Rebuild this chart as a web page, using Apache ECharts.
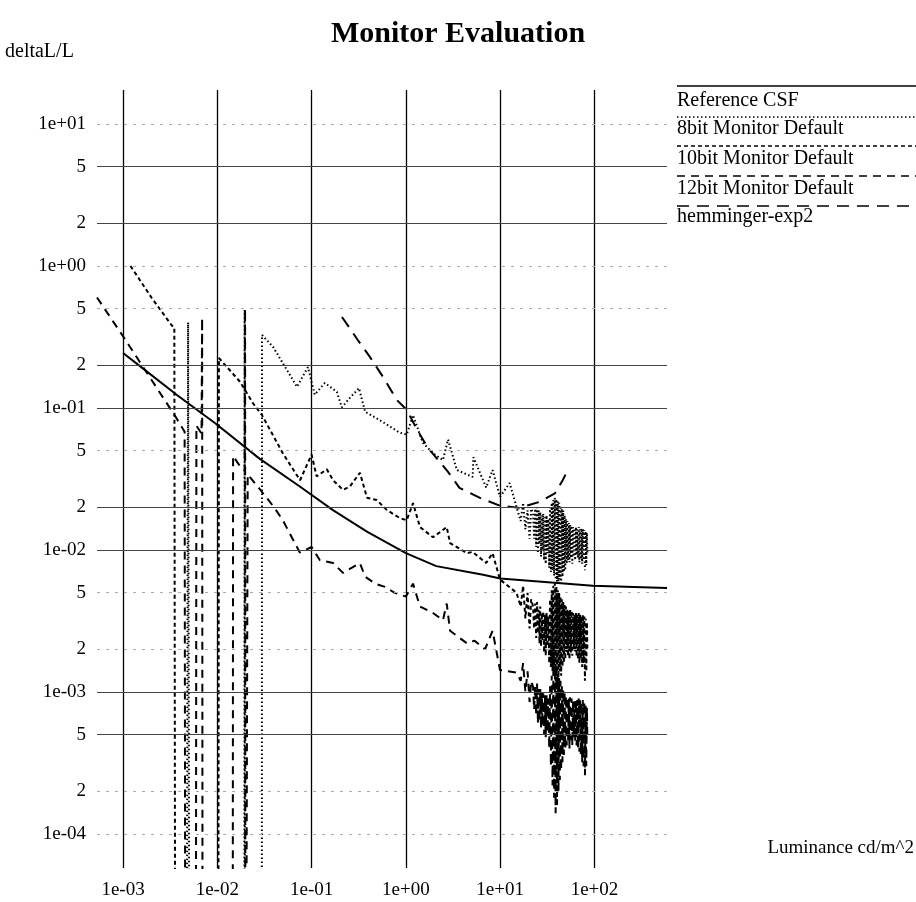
<!DOCTYPE html>
<html>
<head>
<meta charset="utf-8">
<script src="https://cdn.jsdelivr.net/npm/echarts@6/dist/echarts.min.js"></script>
<style>
  html, body { margin: 0; padding: 0; background: #fff; }
  #chart { width: 916px; height: 902px; }
</style>
</head>
<body>
<div id="chart"></div>
<script>
// axis ticks
const xTickVals = [1e-3, 1e-2, 1e-1, 1, 10, 100];
const xTickLabels = ['1e-03', '1e-02', '1e-01', '1e+00', '1e+01', '1e+02'];
const yTickVals = [1e-4, 2e-4, 5e-4, 1e-3, 2e-3, 5e-3, 1e-2, 2e-2, 5e-2, 1e-1, 2e-1, 5e-1, 1, 2, 5, 10];
const yTickLabels = ['1e-04', '2', '5', '1e-03', '2', '5', '1e-02', '2', '5', '1e-01', '2', '5', '1e+00', '2', '5', '1e+01'];

const seriesNames = ['Reference CSF', '8bit Monitor Default', '10bit Monitor Default', '12bit Monitor Default', 'hemminger-exp2'];

// [luminance, deltaL/L]; 1e-7 = zero step (falls off the bottom)
const refCsf = [[0.001, 0.244], [0.0015, 0.198], [0.0037, 0.124], [0.0095, 0.078], [0.028, 0.044], [0.075, 0.028],
  [0.17, 0.019], [0.39, 0.0134], [1.0, 0.0095], [2.1, 0.0077], [6.6, 0.0067], [10, 0.0063], [96, 0.0056], [588, 0.0054]];

const bit8 = [[0.0047, 1e-7], [0.0049, 0.40], [0.0051, 1e-7], [0.0193, 1e-7], [0.0195, 0.49], [0.0197, 1e-7],
  [0.0296, 1e-7], [0.0298, 0.327], [0.039, 0.269], [0.0495, 0.207], [0.070, 0.141], [0.0914, 0.194], [0.108, 0.124],
  [0.138, 0.150], [0.185, 0.130], [0.209, 0.101], [0.255, 0.118], [0.318, 0.138], [0.369, 0.094], [0.53, 0.082],
  [0.86, 0.067], [1.02, 0.065], [1.19, 0.089], [1.51, 0.057], [1.94, 0.048], [2.47, 0.043], [2.8, 0.060], [3.47, 0.0366],
  [5.1, 0.0327], [5.2, 0.045], [7.1, 0.0275], [8.3, 0.0366], [9.95, 0.0237], [12.6, 0.0296], [14.9, 0.0201],
  [16.5, 0.0160], [17.5, 0.0215], [18.5, 0.0140], [19.5, 0.0190], [20.5, 0.0120], [21.3, 0.0195]];
const bit8Tail = [[22.3, 0.0182], [22.9, 0.0120], [23.5, 0.0195], [24.1, 0.0105], [24.6, 0.0200], [25.1, 0.0095],
  [25.6, 0.0190], [26.1, 0.0110], [26.6, 0.0185], [27.1, 0.0090], [27.6, 0.0175], [28.1, 0.0100], [28.6, 0.0180],
  [29.2, 0.0085], [29.8, 0.0170], [30.4, 0.0080], [31, 0.0175], [31.7, 0.0095], [32.4, 0.0165], [33.1, 0.0075],
  [33.8, 0.0200], [34.5, 0.0070], [35.2, 0.0215], [35.9, 0.0072], [36.6, 0.0225], [37.3, 0.0066], [38, 0.0232],
  [38.7, 0.0062], [39.4, 0.0228], [40.1, 0.0060], [40.8, 0.0220], [41.5, 0.0058], [42.2, 0.0215], [42.9, 0.0062],
  [43.6, 0.0205], [44.3, 0.0060], [45, 0.0195], [45.8, 0.0065], [46.6, 0.0190], [47.4, 0.0070], [48.2, 0.0175],
  [49, 0.0072], [49.8, 0.0165], [50.7, 0.0080], [51.6, 0.0160], [52.5, 0.0085], [53.4, 0.0155], [54.3, 0.0082],
  [55.2, 0.0150], [56.2, 0.0088], [57.2, 0.0148], [58.2, 0.0080], [59.2, 0.0145], [60.2, 0.0090], [61.3, 0.0142],
  [62.4, 0.0085], [63.5, 0.0145], [64.6, 0.0092], [65.7, 0.0140], [66.8, 0.0088], [68, 0.0145], [69.2, 0.0082],
  [70.4, 0.0140], [71.6, 0.0086], [72.8, 0.0142], [74, 0.0080], [75.3, 0.0140], [76.6, 0.0085], [77.9, 0.0138],
  [79.2, 0.0072], [80.5, 0.0135], [81.8, 0.0078], [83.1, 0.0132], [84, 0.0095]];

const bit10 = [[0.0012, 1.0], [0.0020, 0.60], [0.0033, 0.38], [0.0035, 0.37], [0.0036, 1e-7], [0.0102, 1e-7],
  [0.0104, 0.225], [0.0174, 0.153], [0.0239, 0.108], [0.0298, 0.089], [0.0495, 0.048], [0.0754, 0.031], [0.1, 0.047],
  [0.113, 0.033], [0.145, 0.037], [0.169, 0.031], [0.215, 0.0265], [0.255, 0.028], [0.325, 0.035], [0.387, 0.0233],
  [0.49, 0.0225], [0.63, 0.0191], [0.86, 0.0168], [1.02, 0.0162], [1.19, 0.0214], [1.41, 0.0145], [1.94, 0.0123],
  [2.71, 0.0145], [2.94, 0.0112], [4.44, 0.0095], [5.1, 0.0097], [7.1, 0.0081], [8.3, 0.0095], [9.95, 0.0062],
  [14.9, 0.0050], [16.5, 0.0040], [17.5, 0.0056], [18.5, 0.0033], [19.5, 0.0050], [20.5, 0.0028], [21.3, 0.0045]];
const bit10Tail = [[22.3, 0.0040], [22.9, 0.0028], [23.5, 0.0042], [24.1, 0.0024], [24.6, 0.0043], [25.1, 0.0026],
  [25.6, 0.0038], [26.1, 0.0022], [26.6, 0.0040], [27.1, 0.0021], [27.6, 0.0036], [28.1, 0.0023], [28.6, 0.0037],
  [29.2, 0.0019], [29.8, 0.0035], [30.4, 0.0018], [31, 0.0036], [31.7, 0.0021], [32.4, 0.0034], [33.1, 0.0016],
  [33.8, 0.0045], [34.5, 0.0015], [35.2, 0.0052], [35.9, 0.0014], [36.6, 0.0056], [37.3, 0.0013], [38, 0.0058],
  [38.7, 0.0012], [39.4, 0.0055], [40.1, 0.0013], [40.8, 0.0052], [41.5, 0.0012], [42.2, 0.0050], [42.9, 0.0014],
  [43.6, 0.0047], [44.3, 0.0013], [45, 0.0045], [45.8, 0.0015], [46.6, 0.0043], [47.4, 0.0016], [48.2, 0.0041],
  [49, 0.0017], [49.8, 0.0040], [50.7, 0.0019], [51.6, 0.0038], [52.5, 0.0018], [53.4, 0.0037], [54.3, 0.0017],
  [55.2, 0.0038], [56.2, 0.0019], [57.2, 0.0037], [58.2, 0.0018], [59.2, 0.0036], [60.2, 0.0020], [61.3, 0.0035],
  [62.4, 0.0019], [63.5, 0.0036], [64.6, 0.0018], [65.7, 0.0035], [66.8, 0.0017], [68, 0.0036], [69.2, 0.0016],
  [70.4, 0.0035], [71.6, 0.0017], [72.8, 0.0034], [74, 0.0015], [75.3, 0.0035], [76.6, 0.0016], [77.9, 0.0034],
  [79.2, 0.0012], [80.5, 0.0033], [81.8, 0.0014], [83.1, 0.0031], [84, 0.0020]];

const bit12 = [[0.00053, 0.60], [0.001, 0.32], [0.0036, 0.087], [0.0045, 0.068], [0.0046, 1e-7], [0.0059, 1e-7],
  [0.0060, 0.075], [0.0068, 0.066], [0.0069, 0.43], [0.0070, 1e-7], [0.0145, 1e-7], [0.0147, 0.046], [0.0169, 0.040],
  [0.0195, 0.036], [0.0197, 0.50], [0.0199, 1e-7], [0.0205, 1e-7], [0.021, 0.034], [0.028, 0.027], [0.040, 0.020],
  [0.0495, 0.0162], [0.075, 0.0096], [0.1, 0.0105], [0.122, 0.0085], [0.169, 0.0081], [0.215, 0.0069], [0.325, 0.0081],
  [0.369, 0.0065], [0.47, 0.0058], [0.60, 0.0055], [0.76, 0.0050], [1.0, 0.0047], [1.19, 0.0058], [1.41, 0.0040],
  [1.94, 0.0036], [2.47, 0.0032], [2.71, 0.0042], [2.94, 0.0027], [4.44, 0.0022], [5.35, 0.0023], [6.9, 0.0020],
  [8.3, 0.0027], [9.95, 0.00143], [14.9, 0.00137], [16.5, 0.0012], [17.5, 0.0016], [18.5, 0.0010], [19.5, 0.0014],
  [20.5, 0.00085], [21.3, 0.0012]];
const bit12Tail = [[22.3, 0.00109], [22.9, 0.00075], [23.5, 0.00110], [24.1, 0.00068], [24.6, 0.00115], [25.1, 0.00060],
  [25.6, 0.00105], [26.1, 0.00062], [26.6, 0.00105], [27.1, 0.00055], [27.6, 0.00100], [28.1, 0.00058], [28.6, 0.00098],
  [29.2, 0.00050], [29.8, 0.00095], [30.4, 0.00048], [31, 0.00095], [31.7, 0.00052], [32.4, 0.00090], [33.1, 0.00040],
  [33.8, 0.00110], [34.5, 0.00030], [35.2, 0.00130], [35.9, 0.00022], [36.6, 0.00140], [37.3, 0.00018], [38, 0.00150],
  [38.7, 0.00014], [39.4, 0.00145], [40.1, 0.00016], [40.8, 0.00135], [41.5, 0.00020], [42.2, 0.00125], [42.9, 0.00024],
  [43.6, 0.00120], [44.3, 0.00028], [45, 0.00112], [45.8, 0.00032], [46.6, 0.00105], [47.4, 0.00036], [48.2, 0.00100],
  [49, 0.00040], [49.8, 0.00095], [50.7, 0.00042], [51.6, 0.00092], [52.5, 0.00045], [53.4, 0.00090], [54.3, 0.00040],
  [55.2, 0.00092], [56.2, 0.00046], [57.2, 0.00090], [58.2, 0.00042], [59.2, 0.00088], [60.2, 0.00048], [61.3, 0.00086],
  [62.4, 0.00045], [63.5, 0.00088], [64.6, 0.00042], [65.7, 0.00088], [66.8, 0.00040], [68, 0.00090], [69.2, 0.00038],
  [70.4, 0.00088], [71.6, 0.00036], [72.8, 0.00085], [74, 0.00032], [75.3, 0.00088], [76.6, 0.00030], [77.9, 0.00086],
  [79.2, 0.00026], [80.5, 0.00080], [81.8, 0.00030], [83.1, 0.00078], [84, 0.00048]];

const hemminger = [[0.21, 0.437], [0.31, 0.30], [0.415, 0.229], [0.57, 0.166], [0.80, 0.114], [1.02, 0.097],
  [1.32, 0.070], [1.69, 0.053], [2.8, 0.0355], [3.7, 0.0274], [6.1, 0.0233], [9.95, 0.0205], [16, 0.0198],
  [26, 0.0218], [38, 0.025], [46, 0.031], [52, 0.0365]];

// styles
const FONT = '"Liberation Serif", "DejaVu Serif", serif';
const dashes = ['solid', [1.5, 2.5], [4, 3], [8, 6], [12, 8]];
const yGridDark = [false, false, true, true, false, false, true, true, false, true, true, false, false, true, true, false];

const lg = v => Math.log10(v);
const toLog = arr => arr.map(p => [lg(p[0]), lg(p[1])]);
const xLogs = xTickVals.map(lg);
const yLogs = yTickVals.map(lg);
const pick = (logs, labels) => v => {
  const i = logs.findIndex(t => Math.abs(t - v) < 1e-6);
  return i >= 0 ? labels[i] : '';
};

const seriesData = [refCsf, bit8.concat(bit8Tail), bit10.concat(bit10Tail), bit12.concat(bit12Tail), hemminger];

const gridLines = xLogs.map(v => ({ xAxis: v, lineStyle: { color: '#000', width: 1.3, type: 'solid' } }))
  .concat(yLogs.map((v, i) => ({
    yAxis: v,
    lineStyle: yGridDark[i] ? { color: '#444', width: 1, type: 'solid' } : { color: '#aaa', width: 1, type: [3, 6] }
  })));

const legendLineY = [86, 117, 146, 176, 206];
const legendTextY = [101, 129, 159, 189, 217];

const graphic = [
  { type: 'text', x: 5, y: 52, style: { text: 'deltaL/L', font: '20px ' + FONT, fill: '#000', verticalAlign: 'middle' } },
  { type: 'text', x: 914, y: 848, style: { text: 'Luminance cd/m^2', font: '19px ' + FONT, fill: '#000', align: 'right', verticalAlign: 'middle' } }
];
seriesNames.forEach((name, i) => {
  graphic.push({ type: 'line', shape: { x1: 677, y1: legendLineY[i], x2: 916, y2: legendLineY[i] },
    style: { stroke: '#000', lineWidth: 1.5, lineDash: dashes[i] === 'solid' ? null : dashes[i] } });
  graphic.push({ type: 'text', x: 677, y: legendTextY[i],
    style: { text: name, font: '20px ' + FONT, fill: '#000', verticalAlign: 'middle' } });
});

const chart = echarts.init(document.getElementById('chart'));
chart.setOption({
  animation: false,
  backgroundColor: '#fff',
  title: {
    text: 'Monitor Evaluation', left: 'center', top: 14,
    textStyle: { fontFamily: FONT, fontSize: 30, fontWeight: 'bold', color: '#000' }
  },
  grid: { left: 97, right: 249, top: 90, bottom: 34 },
  xAxis: {
    type: 'value', min: -3.276, max: 2.769,
    axisLine: { show: false }, axisTick: { show: false }, splitLine: { show: false },
    axisLabel: { customValues: xLogs, formatter: pick(xLogs, xTickLabels), margin: 13,
      fontFamily: FONT, fontSize: 19, color: '#000' }
  },
  yAxis: {
    type: 'value', min: -4.239, max: 1.239,
    axisLine: { show: false }, axisTick: { show: false }, splitLine: { show: false },
    axisLabel: { customValues: yLogs, formatter: pick(yLogs, yTickLabels), margin: 11,
      fontFamily: FONT, fontSize: 19, color: '#000' }
  },
  graphic: graphic,
  series: [{
    type: 'line', data: [], silent: true, z: 1,
    markLine: { silent: true, symbol: ['none', 'none'], label: { show: false }, animation: false, data: gridLines }
  }].concat(seriesData.map((d, i) => ({
    name: seriesNames[i], type: 'line', data: toLog(d), symbol: 'none', z: 3,
    lineStyle: { color: '#000', width: 2, type: dashes[i] }
  })))
});
</script>
</body>
</html>
